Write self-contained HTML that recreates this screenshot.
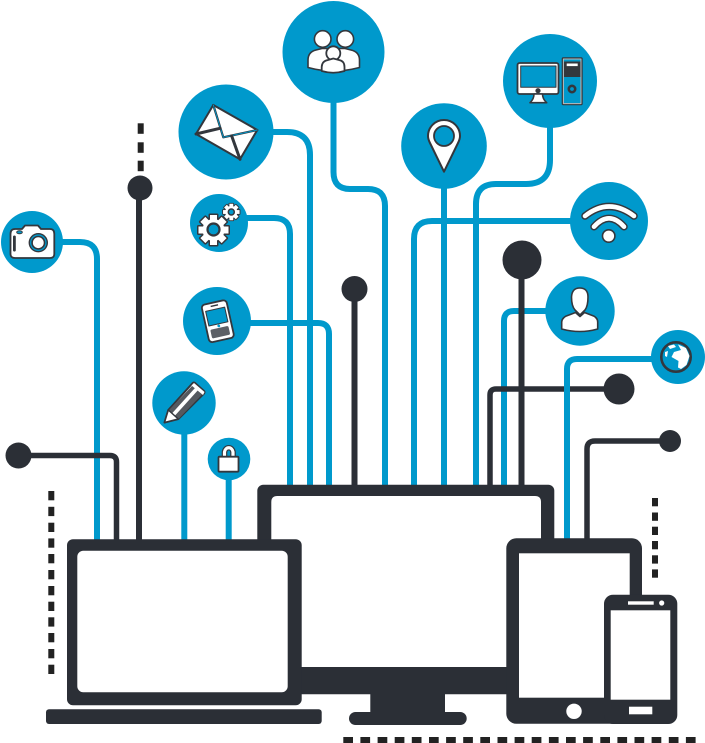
<!DOCTYPE html>
<html><head><meta charset="utf-8"><title>Connected devices</title>
<style>html,body{margin:0;padding:0;background:#fff}svg{display:block}</style></head>
<body>
<svg xmlns="http://www.w3.org/2000/svg" width="705" height="743" viewBox="0 0 705 743">
<defs>
<g id="gear">
<circle r="11"/>
<rect x="-3.5" y="-15" width="7" height="8"/>
<rect x="-3.5" y="-15" width="7" height="8" transform="rotate(45)"/>
<rect x="-3.5" y="-15" width="7" height="8" transform="rotate(90)"/>
<rect x="-3.5" y="-15" width="7" height="8" transform="rotate(135)"/>
<rect x="-3.5" y="-15" width="7" height="8" transform="rotate(180)"/>
<rect x="-3.5" y="-15" width="7" height="8" transform="rotate(225)"/>
<rect x="-3.5" y="-15" width="7" height="8" transform="rotate(270)"/>
<rect x="-3.5" y="-15" width="7" height="8" transform="rotate(315)"/>
</g>
</defs>
<rect width="705" height="743" fill="#fff"/>

<!-- blue connectors under dark -->
<g fill="none" stroke="#0099cc" stroke-width="6">
<path d="M32,242 H80 Q97,242 97,259 V541"/>
<path d="M184.3,403 V541"/>
<path d="M228.7,459 V541"/>
<path d="M219,218 H274 Q290,218 290,234 V487"/>
<path d="M217,323 H318 Q329,323 329,334 V487"/>
<path d="M226,132 H287 Q310,132 310,155 V487"/>
<path d="M333.5,52 V172 Q333.5,189 350,189 H368 Q385,189 385,206 V487"/>
<path d="M550,81 V160 Q550,184 526,184 H496 Q476,184 476,204 V487"/>
<path d="M609,221 H432 Q414,221 414,239 V487"/>
<path d="M444,146 V487"/>
<path d="M580,311 H514 Q504,311 504,321 V487"/>
</g>

<!-- dark connectors -->
<g fill="none" stroke="#2b2f36" stroke-width="5.5">
<path d="M18,455.5 H110 Q116.5,455.5 116.5,462 V541"/>
<path d="M139,188 V541" stroke-width="6"/>
<path d="M354.5,289 V487" stroke-width="6"/>
<path d="M521.5,260 V487" stroke-width="6"/>
<path d="M619,389 H496 Q490,389 490,395 V487"/>
<path d="M670,441 H595 Q587,441 587,449 V541"/>
</g>
<path d="M678,359 H577 Q567,359 567,369 V541" fill="none" stroke="#0099cc" stroke-width="6"/>

<!-- dots -->
<g fill="#2b2f36">
<circle cx="140" cy="188" r="12.5"/>
<circle cx="354.5" cy="289" r="13"/>
<circle cx="522" cy="260" r="19.5"/>
<circle cx="619" cy="389" r="15.5"/>
<circle cx="670" cy="441" r="11"/>
<circle cx="18.5" cy="455.5" r="13"/>
</g>

<!-- dashes -->
<g fill="#222">
<rect x="137.7" y="123.3" width="6" height="10.5"/><rect x="137.7" y="142.3" width="6" height="10.5"/><rect x="137.7" y="160.7" width="6" height="10.5"/>
<rect x="48.3" y="491" width="6" height="9.3"/><rect x="48.3" y="506.8" width="6" height="9.3"/><rect x="48.3" y="522.7" width="6" height="9.3"/><rect x="48.3" y="538.4" width="6" height="9.3"/><rect x="48.3" y="554" width="6" height="9.3"/><rect x="48.3" y="570" width="6" height="9.3"/><rect x="48.3" y="586" width="6" height="9.3"/><rect x="48.3" y="601.7" width="6" height="9.3"/><rect x="48.3" y="617.3" width="6" height="9.3"/><rect x="48.3" y="633" width="6" height="9.3"/><rect x="48.3" y="649" width="6" height="9.3"/><rect x="48.3" y="664.7" width="6" height="9.3"/>
<rect x="652" y="498" width="6" height="8.3"/><rect x="652" y="512.5" width="6" height="8.3"/><rect x="652" y="526.7" width="6" height="8.3"/><rect x="652" y="541" width="6" height="8.3"/><rect x="652" y="555.3" width="6" height="8.3"/><rect x="652" y="569.4" width="6" height="8.3"/>
<rect x="343.3" y="737" width="9.7" height="6"/><rect x="360.4" y="737" width="9.7" height="6"/><rect x="377.6" y="737" width="9.7" height="6"/><rect x="394.7" y="737" width="9.7" height="6"/><rect x="411.8" y="737" width="9.7" height="6"/><rect x="429" y="737" width="9.7" height="6"/><rect x="446.1" y="737" width="9.7" height="6"/><rect x="463.2" y="737" width="9.7" height="6"/><rect x="480.3" y="737" width="9.7" height="6"/><rect x="497.5" y="737" width="9.7" height="6"/><rect x="514.6" y="737" width="9.7" height="6"/><rect x="531.7" y="737" width="9.7" height="6"/><rect x="548.9" y="737" width="9.7" height="6"/><rect x="566" y="737" width="9.7" height="6"/><rect x="583.1" y="737" width="9.7" height="6"/><rect x="600.3" y="737" width="9.7" height="6"/><rect x="617.4" y="737" width="9.7" height="6"/><rect x="634.5" y="737" width="9.7" height="6"/><rect x="651.6" y="737" width="9.7" height="6"/><rect x="668.8" y="737" width="9.7" height="6"/><rect x="685.9" y="737" width="9.7" height="6"/>
</g>

<!-- monitor -->
<g fill="#2b2f36">
<rect x="257.3" y="484.7" width="297" height="209.6" rx="6"/>
<rect x="370.3" y="690" width="74.7" height="25"/>
<rect x="349" y="712" width="117.7" height="13" rx="6.5"/>
</g>
<path d="M271.3,667 V502 Q271.3,496 277.3,496 H535 Q541,496 541,502 V667 Z" fill="#fff"/>

<!-- laptop -->
<rect x="67" y="539.3" width="234.7" height="166" rx="6" fill="#2b2f36"/>
<rect x="77.3" y="550.7" width="210.4" height="141.6" rx="6" fill="#fff"/>
<rect x="46" y="709.3" width="275.7" height="14.7" rx="3" fill="#2b2f36"/>

<!-- tablet -->
<rect x="506.3" y="538.3" width="135.7" height="185.4" rx="10" fill="#2b2f36"/>
<rect x="519" y="553.3" width="110.7" height="144.4" fill="#fff"/>
<circle cx="574" cy="711.3" r="7.7" fill="#fff"/>
<!-- phone -->
<rect x="604" y="594.7" width="73.3" height="129.3" rx="9" fill="#2b2f36"/>
<rect x="610.7" y="610.3" width="59.6" height="89.4" fill="#fff"/>
<rect x="628" y="601.3" width="25.7" height="3.4" fill="#fff"/>
<circle cx="661.7" cy="603" r="2.6" fill="#fff"/>
<rect x="629" y="706.7" width="23.3" height="7.6" fill="#fff"/>

<!-- icon discs -->
<g fill="#0099cc">
<circle cx="333.5" cy="52" r="51"/>
<circle cx="226" cy="132" r="47.5"/>
<circle cx="219" cy="223" r="29"/>
<circle cx="444" cy="146" r="42.8"/>
<circle cx="550" cy="81" r="47"/>
<circle cx="609" cy="221" r="39"/>
<circle cx="32" cy="242" r="31"/>
<circle cx="217" cy="321" r="34"/>
<circle cx="184" cy="403" r="31.7"/>
<circle cx="229" cy="459" r="21.3"/>
<circle cx="580" cy="311" r="34.7"/>
<circle cx="678" cy="357" r="27"/>
</g>

<g stroke="#33373d" stroke-width="1.6" stroke-linejoin="round" stroke-linecap="round">
<!-- people -->
<g fill="#fff">
<circle cx="322.7" cy="39" r="8.3"/>
<circle cx="345.3" cy="39" r="8.3"/>
<path d="M308,67.5 V60 Q308,52 316,50 L322,48.5 H345 L351,50 Q359.5,52 359.5,60 V67.5 Q346,71 333.5,71 Q321,71 308,67.5Z"/>
<circle cx="333.3" cy="53.3" r="7" stroke-width="1.8"/>
<path d="M321.7,71 V67 Q322,61 328,60 L333.3,58.5 L339,60 Q344.5,61 344.5,67 V71 Q333.3,74.5 321.7,71Z" stroke-width="1.8"/>
</g>
<!-- envelope -->
<path d="M213.3,105 L257.3,130 L240,159.3 L196,134Z" fill="#fff" stroke-width="2"/>
<path d="M213.3,105 L223.3,137.3 L257.3,130" fill="none" stroke-width="2.2"/>
<path d="M213.3,105 L223.3,137.3 L257.3,130" fill="none" stroke="#0099cc" stroke-width=".9"/>
<path d="M196,134 L220,128.3 M240,159.3 L231.7,136" fill="none" stroke-width="3"/>
<!-- gears -->
<use href="#gear" transform="translate(213.5,230)" fill="#33373d" stroke-width="3"/>
<use href="#gear" transform="translate(213.5,230)" fill="#fff" stroke="none"/>
<circle cx="213.5" cy="229.5" r="6" fill="#0099cc" stroke-width="2.2"/>
<use href="#gear" transform="translate(231.3,212) scale(.55)" fill="#33373d" stroke-width="3.4"/>
<use href="#gear" transform="translate(231.3,212) scale(.55)" fill="#fff" stroke="none"/>
<circle cx="231.3" cy="212" r="3" fill="#0099cc" stroke-width="1.5"/>
<!-- pin -->
<path d="M444,171.7 L430,143 Q428,139 428,136 A16,16 0 0 1 460,136 Q460,139 458,143Z" fill="#fff" stroke-width="2"/>
<circle cx="444" cy="136" r="10" fill="#0099cc" stroke-width="1.8"/>
<!-- computer -->
<rect x="517.5" y="63" width="41" height="31" rx="2" fill="#fff" stroke-width="1.8"/>
<rect x="520.7" y="66" width="35.3" height="21.3" fill="#0099cc" stroke-width="1"/>
<circle cx="538" cy="90.7" r="2.6" fill="#33373d" stroke="none"/>
<path d="M534,94 Q534,99 530,102.7 H546.7 Q542.5,99 542.5,94Z" fill="#fff"/>
<rect x="561.7" y="57.3" width="21" height="48" rx="1.5" fill="#33373d" stroke="none"/>
<rect x="563.4" y="59" width="17.6" height="44.6" fill="#0099cc" stroke="#bbb" stroke-width="1"/>
<rect x="564" y="61.5" width="16.4" height="15.5" fill="#33373d" stroke="none"/>
<rect x="566.7" y="63.5" width="11" height="2.6" fill="#fff" stroke="none"/>
<circle cx="572" cy="89" r="3.2" fill="#0099cc" stroke-width="2.6"/>
<!-- wifi -->
<g fill="none" stroke-width="7.5">
<path d="M585,216 Q609,197 634,216"/>
<path d="M594,226.7 Q609,210 624,226.7"/>
</g>
<g fill="none" stroke="#fff" stroke-width="4.6">
<path d="M585,216 Q609,197 634,216"/>
<path d="M594,226.7 Q609,210 624,226.7"/>
</g>
<circle cx="608.7" cy="236" r="6.2" fill="#fff"/>
<!-- camera -->
<path d="M10.5,254 V234 Q10.5,229 15,229 H22 L25,225.5 H38 L41,229 H50 Q54.3,229 54.3,234 V254 Q54.3,258 50,258 H15 Q10.5,258 10.5,254Z" fill="#fff" stroke-width="1.8"/>
<circle cx="38.3" cy="242.7" r="9.7" fill="#33373d" stroke="none"/>
<circle cx="38.3" cy="242.7" r="8.3" fill="#0099cc" stroke="none"/>
<circle cx="38.3" cy="242.7" r="6.2" fill="#fff" stroke-width="1.6"/>
<rect x="13" y="235.5" width="2.8" height="16" rx="1.4" fill="#33373d" stroke="none"/>
<ellipse cx="19.5" cy="232.3" rx="2.8" ry="1.5" fill="#0099cc" stroke-width="1"/>
<!-- blackberry -->
<g transform="rotate(-12.5 217.7 321)">
<rect x="205" y="302" width="25.5" height="38.5" rx="3.5" fill="#fff" stroke-width="1.8"/>
<rect x="208" y="309" width="19.5" height="15" fill="#0099cc" stroke-width="1"/>
<rect x="208.5" y="328" width="18.5" height="9" rx="1.5" fill="#5c6066" stroke="none"/>
<circle cx="217.7" cy="326" r="1.4" fill="#0099cc" stroke="none"/>
<rect x="214" y="304.6" width="7.5" height="1.4" fill="#33373d" stroke="none"/>
</g>
<!-- pencil -->
<path d="M164.5,422.5 L168.3,410 L192.7,383 Q194,382 195,383 L204,391 Q205,392 204,393.5 L178.3,419Z" fill="#fff" stroke-width="2"/>
<path d="M169,410 L194,384 L204,392.5 L178.5,419Z" fill="#55595f" stroke="none"/>
<path d="M173.5,414.5 L197,388.5" fill="none" stroke="#fff" stroke-width="3.6" stroke-linecap="butt"/>
<path d="M191.5,385.5 L203,395 L204.5,392 L194,383Z" fill="#fff" stroke="none"/>
<path d="M164.5,422.5 L168.3,410 L178.3,419Z" fill="#fff" stroke-width="1.5"/>
<!-- lock -->
<path d="M224.5,457 V452 A4.3,5 0 0 1 233,452 V457" fill="none" stroke-width="5.6" stroke-linecap="butt"/>
<path d="M224.5,457 V452 A4.3,5 0 0 1 233,452 V457" fill="none" stroke="#fff" stroke-width="3.2" stroke-linecap="butt"/>
<rect x="218.5" y="456.7" width="20" height="15" rx="1" fill="#fff" stroke-width="1.8"/>
<!-- user -->
<path d="M561.7,329 V322 Q562,317 569,315 L575.5,312.5 L580,316.5 L584.5,312.5 L591,315 Q597.7,317 597.7,322 V329 Q580,334 561.7,329Z" fill="#fff"/>
<path d="M571.5,297 Q572,288 579.7,288 Q588,288 588,297 Q588,306 585,310 L580,315 L575,310 Q571.5,306 571.5,297Z" fill="#fff"/>
<!-- globe -->
<circle cx="676" cy="357" r="14.7" fill="#0099cc" stroke-width="2.6"/>
<path d="M668,346 L674,344.5 L676,347 L670,349Z M678,344.5 L686,348 L689.5,356 L686.5,365 L681,369 L678,367.5 L678.5,361 L671.5,357 L674,352 L681,350Z M665,352 L668,351 L667,357 L665,356Z" fill="#fff" stroke="none"/>
</g>
</svg>
</body></html>
